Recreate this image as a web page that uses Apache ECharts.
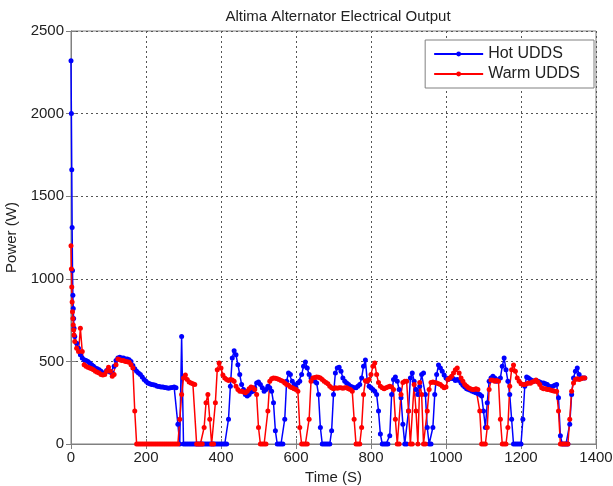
<!DOCTYPE html>
<html>
<head>
<meta charset="utf-8">
<script src="https://cdn.jsdelivr.net/npm/echarts@6/dist/echarts.min.js"></script>
<style>
html,body{margin:0;padding:0;background:#fff;}
#chart{width:613px;height:486px;}
</style>
</head>
<body>
<div id="chart"></div>
<script>
// Time samples (s)
var timeS = [
  0, 1, 2, 3, 4, 5, 6, 7, 8,
  10, 15, 20, 25, 30, 35, 40, 45, 50, 55,
  60, 65, 70, 75, 80, 85, 90, 95, 100, 105,
  110, 115, 120, 125, 130, 135, 140, 145, 150, 155,
  160, 165, 170, 175, 180, 185, 190, 195, 200, 205,
  210, 215, 220, 225, 230, 235, 240, 245, 250, 255,
  260, 265, 270, 275, 280, 285, 290, 295, 300, 305,
  310, 315, 320, 325, 330, 335, 340, 345, 350, 355,
  360, 365, 370, 375, 380, 385, 390, 395, 400, 405,
  410, 415, 420, 425, 430, 435, 440, 445, 450, 455,
  460, 465, 470, 475, 480, 485, 490, 495, 500, 505,
  510, 515, 520, 525, 530, 535, 540, 545, 550, 555,
  560, 565, 570, 575, 580, 585, 590, 595, 600, 605,
  610, 615, 620, 625, 630, 635, 640, 645, 650, 655,
  660, 665, 670, 675, 680, 685, 690, 695, 700, 705,
  710, 715, 720, 725, 730, 735, 740, 745, 750, 755,
  760, 765, 770, 775, 780, 785, 790, 795, 800, 805,
  810, 815, 820, 825, 830, 835, 840, 845, 850, 855,
  860, 865, 870, 875, 880, 885, 890, 895, 900, 905,
  910, 915, 920, 925, 930, 935, 940, 945, 950, 955,
  960, 965, 970, 975, 980, 985, 990, 995, 1000, 1005,
  1010, 1015, 1020, 1025, 1030, 1035, 1040, 1045, 1050, 1055,
  1060, 1065, 1070, 1075, 1080, 1085, 1090, 1095, 1100, 1105,
  1110, 1115, 1120, 1125, 1130, 1135, 1140, 1145, 1150, 1155,
  1160, 1165, 1170, 1175, 1180, 1185, 1190, 1195, 1200, 1205,
  1210, 1215, 1220, 1225, 1230, 1235, 1240, 1245, 1250, 1255,
  1260, 1265, 1270, 1275, 1280, 1285, 1290, 1295, 1300, 1305,
  1310, 1315, 1320, 1325, 1330, 1335, 1340, 1345, 1350, 1355,
  1360, 1365, 1370
];

// Hot UDDS power (W)
var hotPower = [
  2320, 2000, 1660, 1310, 1050, 900, 820, 760, 700,
  650, 610, 580, 540, 520, 510, 505, 500, 490, 480,
  470, 460, 455, 450, 440, 430, 430, 445, 440, 435,
  430, 470, 505, 520, 525, 520, 520, 515, 515, 510,
  500, 475, 455, 440, 430, 420, 405, 390, 380, 370,
  365, 360, 358, 355, 350, 348, 345, 345, 342, 340,
  338, 340, 342, 345, 340, 120, 0, 650, 0, 0,
  0, 0, 0, 0, 0, 0, 0, 0, 0, 0,
  0, 0, 0, 0, 0, 0, 0, 0, 0, 0,
  0, 0, 150, 350, 520, 565, 540, 480, 420, 360,
  330, 300, 290, 300, 315, 320, 340, 370, 375, 360,
  340, 320, 330, 350, 340, 320, 250, 80, 0, 0,
  0, 0, 150, 380, 430, 420, 380, 360, 340, 370,
  380, 420, 470, 497, 460, 420, 400, 385, 380, 370,
  300, 100, 0, 0, 0, 0, 0, 80, 300, 430,
  460, 465, 440, 400, 380, 370, 360, 350, 345, 340,
  340, 350, 360, 400, 470, 508, 380, 350, 340, 330,
  320, 300, 200, 60, 0, 0, 0, 0, 50, 300,
  390, 406, 380, 330, 280, 120, 0, 0, 200, 400,
  430, 380, 330, 300, 350, 420, 430, 300, 100, 0,
  0, 100, 300, 420, 478, 460, 440, 418, 400, 390,
  395, 400, 395, 385, 390, 385, 370, 355, 345, 335,
  330, 325, 320, 315, 310, 305, 300, 290, 200, 100,
  250, 380, 400, 410, 400, 380, 390, 400, 470, 520,
  450, 380, 300, 150, 0, 0, 0, 0, 0, 150,
  350, 406, 400, 390, 385, 380, 385, 380, 375, 370,
  370, 365, 360, 350, 345, 350, 355, 360, 280, 50,
  0, 0, 0, 0, 120, 300, 400, 440, 460, 420,
  400, 400, 400
];

// Warm UDDS power (W)
var warmPower = [
  1200, 1060, 950, 860, 800, 760, 720, 690, 660,
  620, 580, 560, 700, 560, 480, 470, 465, 460, 455,
  450, 440, 435, 430, 420, 418, 420, 440, 465, 440,
  410, 420, 480, 515, 510, 505, 505, 500, 498, 495,
  480, 460, 200, 0, 0, 0, 0, 0, 0, 0,
  0, 0, 0, 0, 0, 0, 0, 0, 0, 0,
  0, 0, 0, 0, 0, 0, 150, 300, 400, 418,
  390, 376, 370, 365, 360, 0, 0, 0, 0, 100,
  250, 300, 150, 0, 0, 250, 450, 490, 460, 418,
  400, 390, 385, 390, 387, 380, 350, 330, 320, 320,
  315, 310, 320, 335, 345, 340, 330, 300, 100, 0,
  0, 0, 0, 200, 380, 395, 400, 398, 395, 390,
  385, 380, 370, 360, 355, 345, 340, 335, 330, 320,
  100, 0, 0, 0, 0, 150, 380, 400, 402, 405,
  404, 400, 390, 380, 373, 365, 350, 340, 335, 340,
  338, 340, 340, 338, 340, 340, 335, 330, 320, 150,
  0, 0, 0, 100, 300, 383, 380, 390, 420, 470,
  490, 420, 373, 350, 340, 335, 340, 345, 350, 345,
  330, 150, 0, 0, 300, 373, 380, 380, 200, 0,
  0, 360, 200, 0, 373, 300, 0, 0, 200, 330,
  372, 375, 372, 370, 365, 360, 350, 340, 345, 390,
  400, 410, 430, 450, 460, 430, 400, 380, 360, 350,
  340, 335, 330, 330, 335, 330, 200, 0, 0, 0,
  100, 330, 387, 386, 380, 385, 380, 150, 0, 0,
  0, 100, 350, 450, 478, 440, 400, 380, 365, 360,
  360, 365, 370, 368, 375, 380, 387, 375, 360, 340,
  335, 335, 330, 330, 325, 322, 320, 320, 200, 0,
  0, 0, 0, 0, 150, 320, 370, 390, 395, 390,
  395, 400, 400
];

var seriesNames = ['Hot UDDS', 'Warm UDDS'];
var xTicks = {min: 0, max: 1400, interval: 200};
var yTicks = {min: 0, max: 2500, interval: 500};

function pairs(ts, vs) {
  var out = [];
  for (var i = 0; i < ts.length; i++) out.push([ts[i], vs[i]]);
  return out;
}
function plain(v) { return String(v); }

var FONT = 'Liberation Sans, Arial, sans-serif';
var chart = echarts.init(document.getElementById('chart'), null, {renderer: 'canvas'});
var axisLineStyle = {color: '#808080', width: 1};
var gridLine = {show: true, lineStyle: {color: '#555', type: [2, 3], width: 1}};

chart.setOption({
  animation: false,
  backgroundColor: '#fff',
  title: {
    text: 'Altima Alternator Electrical Output',
    left: 333, top: 4, textAlign: 'center',
    textStyle: {fontFamily: FONT, fontSize: 15, fontWeight: 'normal', color: '#222'}
  },
  grid: {left: 71, right: 17, top: 31, bottom: 42, containLabel: false, outerBoundsMode: 'none',
         show: true, borderColor: '#808080', borderWidth: 1, backgroundColor: '#fff'},
  legend: {
    data: seriesNames,
    orient: 'vertical',
    right: 19, top: 40,
    backgroundColor: '#fff',
    borderColor: '#808080', borderWidth: 1,
    padding: [6, 14, 6, 8],
    itemGap: 4,
    itemWidth: 49, itemHeight: 6,
    textStyle: {fontFamily: FONT, fontSize: 16, color: '#222'}
  },
  xAxis: [{
    type: 'value', min: xTicks.min, max: xTicks.max, interval: xTicks.interval,
    name: 'Time (S)', nameLocation: 'middle', nameGap: 26,
    nameTextStyle: {fontFamily: FONT, fontSize: 15, color: '#222'},
    axisLine: {show: true, lineStyle: axisLineStyle},
    axisTick: {show: true, inside: true, length: 5, lineStyle: axisLineStyle},
    axisLabel: {fontFamily: FONT, fontSize: 15, color: '#222', margin: 6, formatter: plain},
    splitLine: gridLine
  }, {
    type: 'value', position: 'top', min: xTicks.min, max: xTicks.max, interval: xTicks.interval,
    axisLine: {show: true, lineStyle: axisLineStyle},
    axisTick: {show: true, inside: true, length: 5, lineStyle: axisLineStyle},
    axisLabel: {show: false}, splitLine: {show: false}
  }],
  yAxis: [{
    type: 'value', min: yTicks.min, max: yTicks.max, interval: yTicks.interval,
    name: 'Power (W)', nameLocation: 'middle', nameGap: 46, nameRotate: 90,
    nameTextStyle: {fontFamily: FONT, fontSize: 15, color: '#222'},
    axisLine: {show: true, lineStyle: axisLineStyle},
    axisTick: {show: true, inside: true, length: 5, lineStyle: axisLineStyle},
    axisLabel: {fontFamily: FONT, fontSize: 15, color: '#222', margin: 7, formatter: plain},
    splitLine: gridLine
  }, {
    type: 'value', position: 'right', min: yTicks.min, max: yTicks.max, interval: yTicks.interval,
    axisLine: {show: true, lineStyle: axisLineStyle},
    axisTick: {show: true, inside: true, length: 5, lineStyle: axisLineStyle},
    axisLabel: {show: false}, splitLine: {show: false}
  }],
  series: [{
    name: seriesNames[0], type: 'line',
    data: pairs(timeS, hotPower),
    xAxisIndex: 0, yAxisIndex: 0,
    symbol: 'circle', symbolSize: 5, showSymbol: true, showAllSymbol: true,
    color: '#0000ff',
    lineStyle: {width: 1.5, color: '#0000ff'},
    itemStyle: {color: '#0000ff'},
    emphasis: {disabled: true}
  }, {
    name: seriesNames[1], type: 'line',
    data: pairs(timeS, warmPower),
    xAxisIndex: 0, yAxisIndex: 0,
    symbol: 'circle', symbolSize: 5, showSymbol: true, showAllSymbol: true,
    color: '#ff0000',
    lineStyle: {width: 1.5, color: '#ff0000'},
    itemStyle: {color: '#ff0000'},
    emphasis: {disabled: true}
  }]
});
</script>
</body>
</html>
